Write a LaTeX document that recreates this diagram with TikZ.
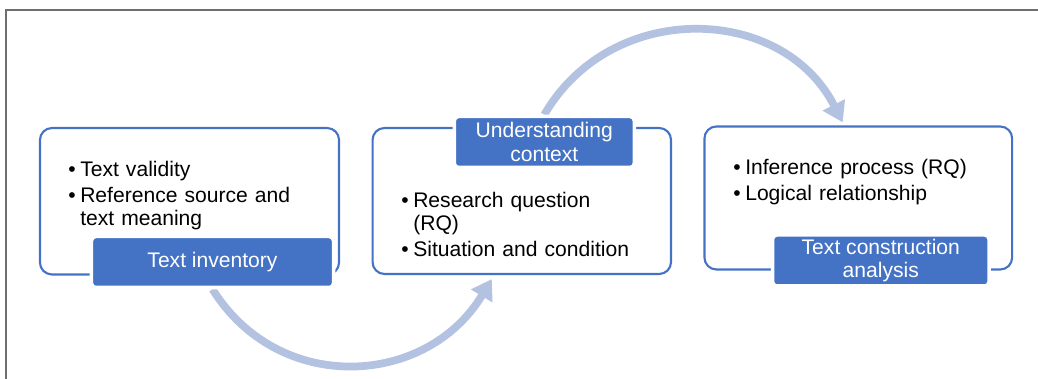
\documentclass[tikz,border=0pt]{standalone}
\usepackage{fontspec}
\setmainfont{Liberation Sans}
\usetikzlibrary{arrows.meta,backgrounds}
\definecolor{boxblue}{HTML}{4472C4}
\definecolor{arcblue}{RGB}{180,194,226}
\definecolor{framegray}{RGB}{110,110,110}
\newcommand\bpoint[1]{\par\hangindent=0.3cm\hangafter=1\noindent\makebox[0.3cm][l]{\textbullet}#1\par\vspace{1.5pt}}
\begin{document}
\begin{tikzpicture}[x=0.025cm,y=0.025cm,font=\fontsize{15}{16.6}\selectfont,
  frame/.style={draw=boxblue,line width=1.5pt,rounded corners=8.5pt,inner sep=0pt},
  tag/.style={fill=boxblue,draw=white,line width=2.5pt,rounded corners=3pt,text=white,align=center,inner sep=0pt,minimum height=1.275cm},
  txt/.style={anchor=north west,text width=7cm,inner sep=0pt,align=left},
  flow/.style={draw=arcblue,line width=5.5pt,-{Triangle[length=14pt,width=17pt]}}]
\useasboundingbox (0,0) rectangle (1038,379);
\draw[framegray,line width=1.4pt](6,0)--(6,369)--(1038,369);
% three frames
\node[frame,minimum width=7.475cm,minimum height=3.66cm](box1) at (189.5,177.75){};
\node[frame,minimum width=7.46cm,minimum height=3.65cm](box2) at (521.8,178){};
\node[frame,minimum width=7.69cm,minimum height=3.575cm](box3) at (858.3,181){};
\node[tag,minimum width=6.05cm](lab1) at (212.5,117){Text inventory};
\node[tag,minimum width=4.5cm](lab2) at (544.3,237){Understanding\\context};
\node[tag,minimum width=5.41cm](lab3) at (880.8,118.5){Text construction\\analysis};
\node[txt](t1) at (68,226){\bpoint{Text validity}\bpoint{Reference source and\newline text meaning}};
\node[txt](t2) at (401,195){\bpoint{Research question\newline (RQ)}\bpoint{Situation and condition}};
\node[txt](t3) at (733,228){\bpoint{Inference process (RQ)}\bpoint{Logical relationship}};
% arcs between the steps
\begin{scope}[on background layer]
\draw[flow](lab1.south) to[out=-58,in=239,looseness=1.15] ([xshift=-0.75cm,yshift=-0.1cm]box2.south);
\draw[flow](lab2.north) to[out=60,in=117,looseness=1.14] ([xshift=-0.39cm,yshift=0.075cm]box3.north);
\end{scope}
\end{tikzpicture}
\end{document}
